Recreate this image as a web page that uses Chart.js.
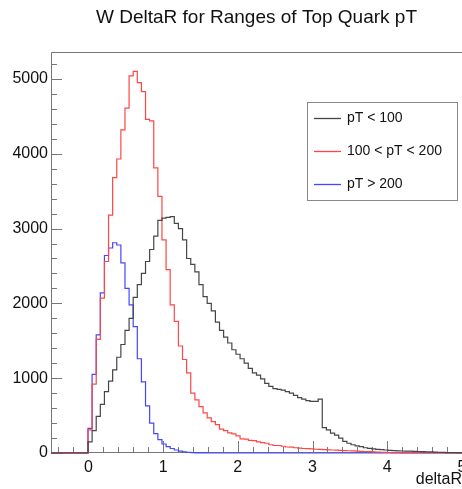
<!DOCTYPE html>
<html>
<head>
    <title>W DeltaR for Ranges of Top Quark pT</title>
    <script src="https://cdn.jsdelivr.net/npm/chart.js"></script>
    <style>
        html, body { margin: 0; padding: 0; background: #fff; }
        .chart-container { width: 462px; height: 489px; }
    </style>
</head>
<body>
    <div class="chart-container">
        <canvas id="chartjs"></canvas>
    </div>

    <script>
        // histogram binning: 100 bins from -0.5 to 5
        const binLow = -0.5;
        const binHigh = 5;
        const nBins = 100;

        const seriesLabels = ['pT < 100', '100 < pT < 200', 'pT > 200'];
        const xTickLabels = [0, 1, 2, 3, 4, 5];
        const yTickLabels = [0, 1000, 2000, 3000, 4000, 5000];

        const lowPt = [0, 0, 0, 0, 0, 0, 0, 0, 0,
            150, 300, 490, 650, 820, 960, 1110, 1280, 1450, 1640,
            1800, 2080, 2250, 2400, 2560, 2720, 2900, 3110, 3140, 3150,
            3160, 3070, 3000, 2850, 2600, 2520, 2420, 2250, 2090, 2000,
            1900, 1750, 1640, 1550, 1470, 1380, 1320, 1260, 1200, 1130,
            1070, 1040, 990, 930, 890, 860, 850, 840, 820, 800,
            770, 740, 720, 700, 690, 690, 720, 340, 310, 265,
            240, 200, 155, 130, 110, 95, 85, 70, 62, 55,
            48, 44, 40, 35, 31, 28, 27, 25, 24, 22,
            20, 18, 16, 14, 12, 10, 8, 6, 5, 4, 3];

        const midPt = [0, 0, 0, 0, 0, 0, 0, 0, 0,
            310, 920, 1520, 2070, 2560, 3180, 3680, 3930, 4320, 4610,
            5040, 5100, 4950, 4830, 4460, 4440, 3810, 3430, 2850, 2450,
            1980, 1760, 1430, 1250, 1070, 800, 710, 620, 535, 470,
            420, 380, 320, 300, 270, 255, 230, 190, 185, 170,
            165, 150, 140, 130, 110, 100, 100, 90, 80, 78,
            70, 65, 60, 58, 55, 50, 48, 45, 42, 40,
            38, 35, 32, 30, 28, 25, 22, 20, 18, 15,
            12, 10, 8, 7, 5, 4, 3, 2, 2, 1,
            0, 0, 0, 0, 0, 0, 0, 0, 0, 0, 0];

        const highPt = [0, 0, 0, 0, 0, 0, 0, 0, 0,
            330, 1050, 1580, 2140, 2640, 2740, 2810, 2780, 2540, 2200,
            1980, 1690, 1260, 950, 630, 400, 260, 180, 120, 85,
            60, 40, 25, 15, 10, 5, 3, 2, 1, 0,
            0, 0, 0, 0, 0, 0, 0, 0, 0, 0,
            0, 0, 0, 0, 0, 0, 0, 0, 0, 0,
            0, 0, 0, 0, 0, 0, 0, 0, 0, 0,
            0, 0, 0, 0, 0, 0, 0, 0, 0, 0,
            0, 0, 0, 0, 0, 0, 0, 0, 0, 0,
            0, 0, 0, 0, 0, 0, 0, 0, 0, 0, 0];

        const lineColors = ['rgb(70, 70, 70)', 'rgb(255, 70, 70)', 'rgb(70, 70, 255)'];
        const fontFamily = '"Liberation Sans", Arial, Helvetica, sans-serif';

        // turn bin contents into step points at the low edge of each bin
        function histPoints(counts) {
            const width = (binHigh - binLow) / nBins;
            const pts = counts.map((c, i) => ({ x: binLow + i * width, y: c }));
            pts.push({ x: binHigh, y: counts[counts.length - 1] });
            return pts;
        }

        // ROOT style frame with inside ticks
        const frameTicks = {
            id: 'frameTicks',
            beforeDatasetsDraw: (chart) => {
                const ctx = chart.ctx;
                const area = chart.chartArea;
                const xs = chart.scales.x;
                const ys = chart.scales.y;
                ctx.save();
                ctx.strokeStyle = '#777';
                ctx.lineWidth = 1;
                ctx.beginPath();
                ctx.moveTo(area.left + 0.5, area.bottom);
                ctx.lineTo(area.left + 0.5, area.top + 0.5);
                ctx.lineTo(area.right, area.top + 0.5);
                ctx.moveTo(area.left, area.bottom - 0.5);
                ctx.lineTo(area.right, area.bottom - 0.5);

                for (let v = 0; v <= ys.max; v += 200) {
                    const y = Math.round(ys.getPixelForValue(v)) + 0.5;
                    const len = v % 1000 === 0 ? 11 : 6;
                    ctx.moveTo(area.left, y);
                    ctx.lineTo(area.left + len, y);
                }
                for (let i = -2; i <= 25; i++) {
                    const v = i * 0.2;
                    if (v < xs.min || v > xs.max) continue;
                    const x = Math.round(xs.getPixelForValue(v)) + 0.5;
                    const len = i % 5 === 0 ? 12 : 6;
                    ctx.moveTo(x, area.bottom);
                    ctx.lineTo(x, area.bottom - len);
                }
                ctx.stroke();
                ctx.restore();
            }
        };

        const legendBox = {
            id: 'legendBox',
            afterDraw: (chart) => {
                const ctx = chart.ctx;
                ctx.save();
                ctx.fillStyle = '#fff';
                ctx.fillRect(307, 102, 151, 99);
                ctx.strokeStyle = '#888';
                ctx.lineWidth = 1;
                ctx.strokeRect(307.5, 102.5, 150, 98);
                ctx.font = '14px ' + fontFamily;
                ctx.textBaseline = 'middle';
                ctx.textAlign = 'left';
                chart.data.datasets.forEach((ds, i) => {
                    const y = 118 + i * 33;
                    ctx.strokeStyle = ds.borderColor;
                    ctx.lineWidth = 1.3;
                    ctx.beginPath();
                    ctx.moveTo(314, y + 0.5);
                    ctx.lineTo(341, y + 0.5);
                    ctx.stroke();
                    ctx.fillStyle = '#111';
                    ctx.fillText(ds.label, 347, y);
                });
                ctx.restore();
            }
        };

        const ctx = document.getElementById('chartjs').getContext('2d');
        new Chart(ctx, {
            type: 'line',
            data: {
                datasets: [lowPt, midPt, highPt].map((counts, i) => ({
                    label: seriesLabels[i],
                    data: histPoints(counts),
                    borderColor: lineColors[i],
                    borderWidth: 1.2,
                    stepped: true,
                    pointRadius: 0,
                    fill: false,
                    clip: false
                }))
            },
            plugins: [frameTicks, legendBox],
            options: {
                responsive: true,
                maintainAspectRatio: false,
                animation: false,
                layout: { padding: 0 },
                scales: {
                    x: {
                        type: 'linear',
                        min: binLow,
                        max: binHigh,
                        grid: { display: false, drawTicks: false },
                        border: { display: false },
                        ticks: {
                            autoSkip: false,
                            padding: 5,
                            maxRotation: 0,
                            color: '#111',
                            font: { family: fontFamily, size: 16 },
                            callback: (v) => String(v)
                        },
                        afterBuildTicks: (scale) => {
                            scale.ticks = xTickLabels.map(v => ({ value: v }));
                        },
                        title: {
                            display: true,
                            text: 'deltaR',
                            align: 'end',
                            color: '#111',
                            padding: 0,
                            font: { family: fontFamily, size: 16 }
                        },
                        afterFit: (scale) => {
                            scale.height = 36;
                            scale.paddingLeft = 0;
                            scale.paddingRight = 0;
                        }
                    },
                    y: {
                        type: 'linear',
                        min: 0,
                        max: 5360,
                        grid: { display: false, drawTicks: false },
                        border: { display: false },
                        ticks: {
                            autoSkip: false,
                            padding: 3,
                            color: '#111',
                            font: { family: fontFamily, size: 16 },
                            callback: (v) => String(v)
                        },
                        afterBuildTicks: (scale) => {
                            scale.ticks = yTickLabels.map(v => ({ value: v }));
                        },
                        afterFit: (scale) => {
                            scale.width = 51;
                            scale.paddingTop = 0;
                            scale.paddingBottom = 0;
                        }
                    }
                },
                plugins: {
                    legend: { display: false },
                    tooltip: { enabled: false },
                    title: {
                        display: true,
                        text: 'W DeltaR for Ranges of Top Quark pT',
                        fullSize: false,
                        color: '#111',
                        font: { family: fontFamily, size: 19, weight: 'normal', lineHeight: 1.2 },
                        padding: { top: 6.6, bottom: 22.6 }
                    }
                }
            }
        });
    </script>
</body>
</html>
